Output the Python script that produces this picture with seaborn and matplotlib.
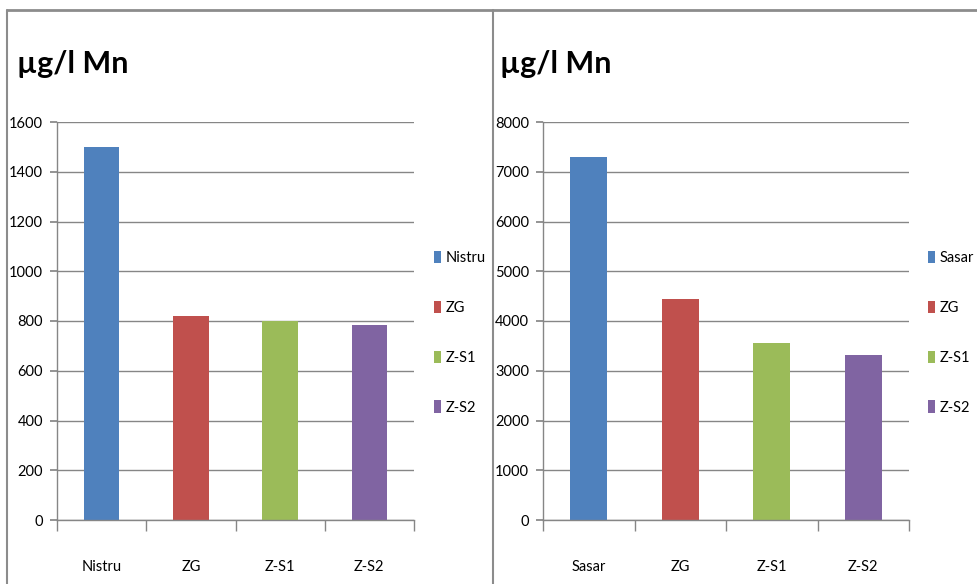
import matplotlib
matplotlib.use("Agg")
import matplotlib.pyplot as plt
from matplotlib.lines import Line2D
from matplotlib.patches import Patch
import seaborn as sns
import pandas as pd

# data
left_cats = ["Nistru", "ZG", "Z-S1", "Z-S2"]
left_vals = [1500, 820, 800, 785]
right_cats = ["Sasar", "ZG", "Z-S1", "Z-S2"]
right_vals = [7300, 4450, 3550, 3310]
colors = ["#4F81BD", "#C0504D", "#9BBB59", "#8064A2"]
title = "µg/l Mn"

sns.set_theme(style="white")
plt.rcParams["font.family"] = ["Lato", "DejaVu Sans"]
plt.rcParams["text.color"] = "black"

W, H = 977, 584
fig = plt.figure(figsize=(W / 100, H / 100), dpi=100)


def px_axes(l, t, r, b):
    return fig.add_axes([l / W, 1 - b / H, (r - l) / W, (b - t) / H])


def draw_panel(ax, cats, vals, ymax, step, legend_x, title_x):
    df = pd.DataFrame({"site": cats, "value": vals})
    sns.barplot(data=df, x="site", y="value", hue="site", palette=colors,
                width=0.4, legend=False, ax=ax, saturation=1, edgecolor="none")
    ax.set_xlim(-0.5, 3.5)
    ax.set_ylim(0, ymax)
    ax.set_yticks(range(0, ymax + 1, step))
    ax.set_xlabel("")
    ax.set_ylabel("")
    for s in ["top", "right"]:
        ax.spines[s].set_visible(False)
    for s in ["left", "bottom"]:
        ax.spines[s].set_color("#868686")
        ax.spines[s].set_linewidth(1)
    ax.yaxis.grid(True, color="#868686", linewidth=1)
    ax.set_axisbelow(True)
    ax.tick_params(axis="y", left=True, length=5, color="#868686",
                   labelsize=10.5, pad=5, labelcolor="black")
    ax.set_xticks([-0.5, 0.5, 1.5, 2.5, 3.5], minor=True)
    ax.tick_params(axis="x", which="major", bottom=False, labelsize=10.5,
                   pad=23, labelcolor="black")
    ax.tick_params(axis="x", which="minor", bottom=True, length=8,
                   color="#868686")
    handles = [Patch(facecolor=c, edgecolor="none") for c in colors]
    fig.legend(handles, cats, loc="upper left",
               bbox_to_anchor=(legend_x / W, 1 - 251 / H),
               frameon=False, fontsize=10.5, handlelength=0.5,
               handleheight=0.9, handletextpad=0.3, labelspacing=2.45,
               borderpad=0, borderaxespad=0)
    fig.text(title_x / W, 1 - 64 / H, title, fontsize=22, fontweight="bold",
             va="center", ha="left")


ax1 = px_axes(57, 122, 414, 520)
draw_panel(ax1, left_cats, left_vals, 1600, 200, 434, 17)
ax2 = px_axes(543, 122, 909, 520)
draw_panel(ax2, right_cats, right_vals, 8000, 1000, 928, 500)

# panel frames
border = "#8C8C8C"
fig.add_artist(Line2D([7 / W, 1], [1 - 10 / H] * 2, color=border, lw=2,
                      transform=fig.transFigure))
for x in (7, 493):
    fig.add_artist(Line2D([x / W] * 2, [0, 1 - 10 / H], color=border, lw=1.5,
                          transform=fig.transFigure))

fig.savefig("out.png", dpi=100)
